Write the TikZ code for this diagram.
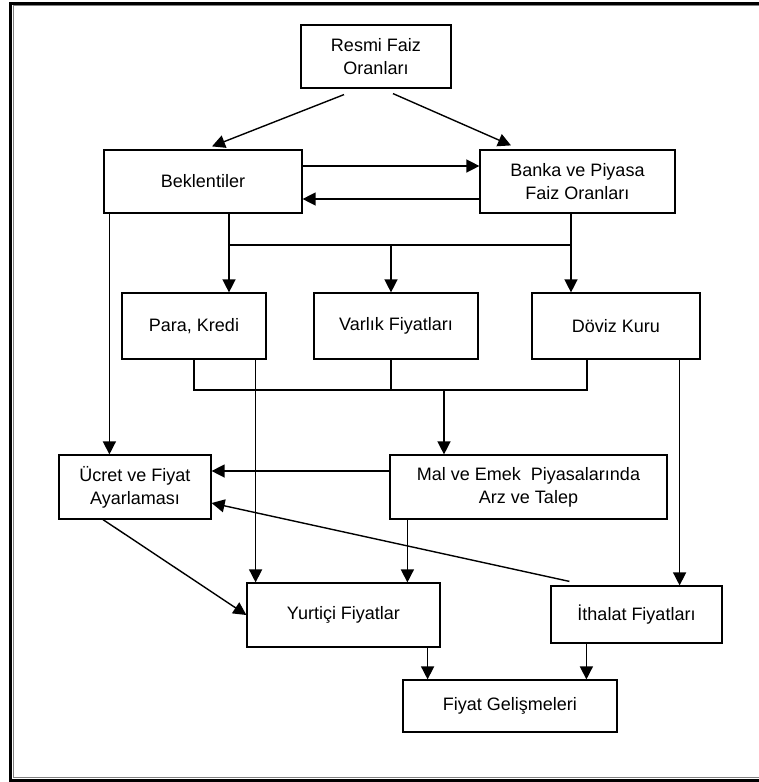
\documentclass[tikz,border=0pt]{standalone}
\usepackage{fontspec}
\setmainfont{Liberation Sans}
\usetikzlibrary{arrows.meta}

\tikzset{
  box/.style={draw, line width=1.2pt, align=center, inner sep=0pt,
    font=\fontsize{18}{23}\selectfont},
  wire/.style={line width=1.4pt},
  arr/.style={wire, -{Triangle[length=13pt,width=13pt]}},
}

\begin{document}
\begin{tikzpicture}[x=1pt,y=-1pt]
  \useasboundingbox (0,0) rectangle (759,782);

  % frame
  \draw[line width=3pt] (10.5,782) -- (10.5,3.5) -- (759,3.5);
  \draw[line width=3pt] (9,780.5) -- (759,780.5);
  \draw[gray, line width=1.2pt] (759,5.5) -- (13.8,5.5) -- (13.8,777.5) -- (759,777.5);

  % boxes
  \node[box, minimum width=150, minimum height=63] (resmi)   at (376,56.5)  {Resmi Faiz\\Oranları};
  \node[box, minimum width=198, minimum height=63] (bekl)    at (203,181.5) {Beklentiler};
  \node[box, minimum width=195, minimum height=63] (banka)   at (577.5,181.5) {Banka ve Piyasa\\Faiz Oranları};
  \node[box, minimum width=144, minimum height=66] (para)    at (194,326)   {Para, Kredi};
  \node[box, minimum width=164, minimum height=66] (varlik)  at (396,326)   {Varlık Fiyatları};
  \node[box, minimum width=168, minimum height=66] (doviz)   at (616,326)   {Döviz Kuru};
  \node[box, minimum width=152, minimum height=64] (ucret)   at (135,487)   {Ücret ve Fiyat\\Ayarlaması};
  \node[box, minimum width=277, minimum height=64] (mal)     at (528.5,487) {Mal ve Emek\ \ Piyasalarında\\Arz ve Talep};
  \node[box, minimum width=193, minimum height=64] (yurt)    at (343.5,615) {Yurtiçi Fiyatlar};
  \node[box, minimum width=171, minimum height=57] (ithalat) at (636.5,614.5) {İthalat Fiyatları};
  \node[box, minimum width=214, minimum height=52] (fiyat)   at (510,706)   {Fiyat Gelişmeleri};

  % bus points
  \coordinate (busA) at (229,245);
  \coordinate (busB) at (391,245);
  \coordinate (busC) at (571,245);
  \coordinate (busD) at (194,390);
  \coordinate (busE) at (587,390);
  \coordinate (busF) at (444,390);

  % top level
  \draw[arr] ([shift={(-32,6)}]resmi.south) -- ([shift={(9,-3)}]bekl.north);
  \draw[arr] ([shift={(17,5)}]resmi.south) -- ([shift={(-66.5,-4)}]banka.north);
  \draw[arr] ([yshift=15.5pt]bekl.east) -- ([yshift=15.5pt]banka.west);
  \draw[arr] ([yshift=-17.5pt]banka.west) -- ([yshift=-17.5pt]bekl.east);

  % upper bus
  \draw[wire] (busA |- bekl.south) -- (busA) -- (busC) -- (busC |- banka.south);
  \draw[arr] (busA) -- (busA |- para.north);
  \draw[arr] (busB) -- (busB |- varlik.north);
  \draw[arr] (busC) -- (busC |- doviz.north);

  % lower bus
  \draw[wire] (para.south) -- (busD) -- (busE) -- (busE |- doviz.south);
  \draw[wire] (busB |- varlik.south) -- (busB |- busD);
  \draw[arr] (busF) -- (busF |- mal.north);

  % long links
  \draw[arr] ([xshift=6pt]bekl.south west) -- ([xshift=6pt]bekl.south west |- ucret.north);
  \draw[arr] ([xshift=-11pt]para.south east) -- ([xshift=-11pt]para.south east |- yurt.north);
  \draw[arr] ([xshift=-21pt]doviz.south east) -- ([xshift=-21pt]doviz.south east |- ithalat.north);
  \draw[arr] ([yshift=16pt]mal.west) -- ([yshift=16pt]mal.west -| ucret.east);
  \draw[arr] ([shift={(19,-4)}]ithalat.north west) -- ([yshift=-16pt]ucret.east);
  \draw[arr] ([xshift=-32pt]ucret.south) -- (yurt.west);
  \draw[arr] ([xshift=18pt]mal.south west) -- ([xshift=18pt]mal.south west |- yurt.north);

  % bottom
  \draw[arr] ([xshift=-13pt]yurt.south east) -- ([xshift=-13pt]yurt.south east |- fiyat.north);
  \draw[arr] ([xshift=36pt]ithalat.south west) -- ([xshift=36pt]ithalat.south west |- fiyat.north);
\end{tikzpicture}
\end{document}
